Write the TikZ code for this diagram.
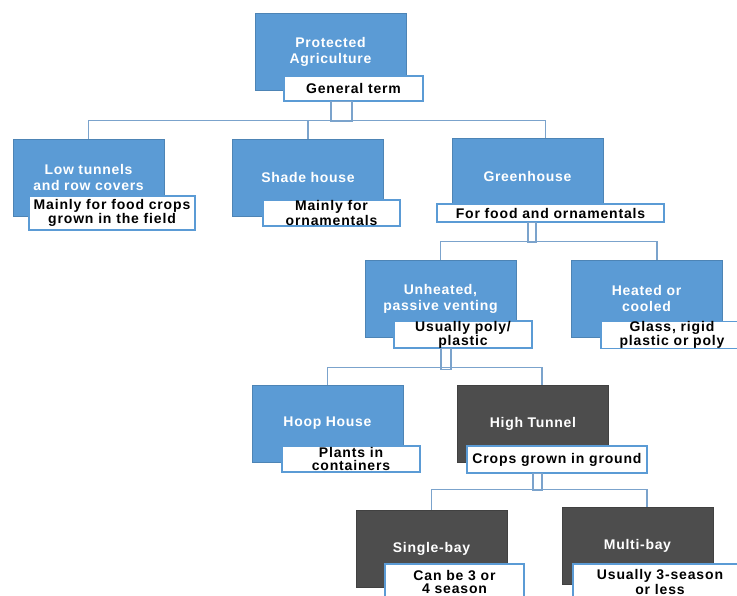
\documentclass[tikz,border=0pt]{standalone}
\usepackage{fontspec}
\setmainfont{Liberation Sans}
\newfontfamily\bxfont[LetterSpace=5]{Liberation Sans}
\newfontfamily\lbfont[LetterSpace=6]{Liberation Sans}
\usetikzlibrary{calc}
\definecolor{bxblue}{HTML}{5B9BD5}
\definecolor{bxdark}{HTML}{4D4D4D}
\definecolor{lnblue}{HTML}{7BA3CC}
\tikzset{
 box/.style={rectangle, minimum width=151pt, minimum height=77pt, inner sep=0pt, align=center, text=white, font=\bxfont\bfseries\fontsize{14}{16}\selectfont},
 bluebox/.style={box, fill=bxblue, draw=bxblue!85!black, line width=0.6pt},
 darkbox/.style={box, fill=bxdark, draw=bxdark!85!black, line width=0.6pt},
 lbl/.style={rectangle, draw=bxblue, line width=1.2pt, fill=white, inner sep=0pt, align=center, font=\lbfont\bfseries\fontsize{14}{13}\selectfont},
 conn/.style={draw=lnblue, line width=1.5pt},
}
\begin{document}
\begin{tikzpicture}[x=1pt,y=-1pt]
\useasboundingbox (0,0) rectangle (737,596);
\clip (0,0) rectangle (737,596);
% level 0
\node[bluebox] (pa) at (330.5,51.5) {Protected\\Agriculture};
\node[lbl, minimum width=139pt, minimum height=25pt] (gt) at (353.5,88.5) {General term};
% level 1
\node[bluebox] (lt) at (88.5,177.5) {Low tunnels\\and row covers};
\node[lbl, minimum width=166pt, minimum height=34pt] (ltl) at (112,213) {Mainly for food crops\\grown in the field};
\node[bluebox] (sh) at (308,177.5) {Shade house};
\node[lbl, minimum width=137pt, minimum height=26pt] (shl) at (331.5,213) {Mainly for\\ornamentals};
\node[bluebox] (gh) at (527.5,176.5) {Greenhouse};
\node[lbl, minimum width=227pt, minimum height=18pt] (ghl) at (550.5,213) {For food and ornamentals};
% level 2
\node[bluebox] (uh) at (440.5,298.5) {Unheated,\\passive venting};
\node[lbl, minimum width=138pt, minimum height=25pt] (uhl) at (463,334.5) {Usually poly/\\plastic};
\node[bluebox] (ht) at (646.5,298.5) {Heated or\\cooled};
\node[lbl, minimum width=142pt, minimum height=24pt] (htl) at (672,335) {Glass, rigid\\plastic or poly};
% level 3
\node[bluebox] (hh) at (327.5,423.5) {Hoop House};
\node[lbl, minimum width=138pt, minimum height=26pt] (hhl) at (351,459) {Plants in\\containers};
\node[darkbox] (tn) at (533,423.5) {High Tunnel};
\node[lbl, minimum width=180pt, minimum height=27pt] (tnl) at (557,459.5) {Crops grown in ground};
% level 4
\node[darkbox] (sb) at (431.5,548.5) {Single-bay};
\node[lbl, minimum width=139pt, minimum height=36pt] (sbl) at (454.5,582) {Can be 3 or\\4 season};
\node[darkbox] (mb) at (637.5,545.5) {Multi-bay};
\node[lbl, minimum width=174pt, minimum height=36pt] (mbl) at (660,582) {Usually 3-season\\or less};
% connectors
\draw[conn] ($(gt.south)+(-22.5,0)$) rectangle ($(gt.south)+(-1.5,20)$);
\draw[conn] (lt.north) -- ++(0,-18) -| ($(gh.north)+(18,0)$);
\draw[conn] (sh.north) -- ++(0,-18);
\draw[conn] ($(ghl.south)+(-22.5,0)$) rectangle ($(ghl.south)+(-14.5,20)$);
\draw[conn] (uh.north) -- ++(0,-18) -| ($(ht.north)+(10.5,0)$);
\draw[conn] ($(uhl.south)+(-22,0)$) rectangle ($(uhl.south)+(-12,21)$);
\draw[conn] (hh.north) -- ++(0,-17) -| ($(tn.north)+(9,0)$);
\draw[conn] ($(tnl.south)+(-24,0)$) rectangle ($(tnl.south)+(-15,17)$);
\draw[conn] (sb.north) -- ++(0,-20) -| ($(mb.north)+(9.5,0)$);
\end{tikzpicture}
\end{document}
